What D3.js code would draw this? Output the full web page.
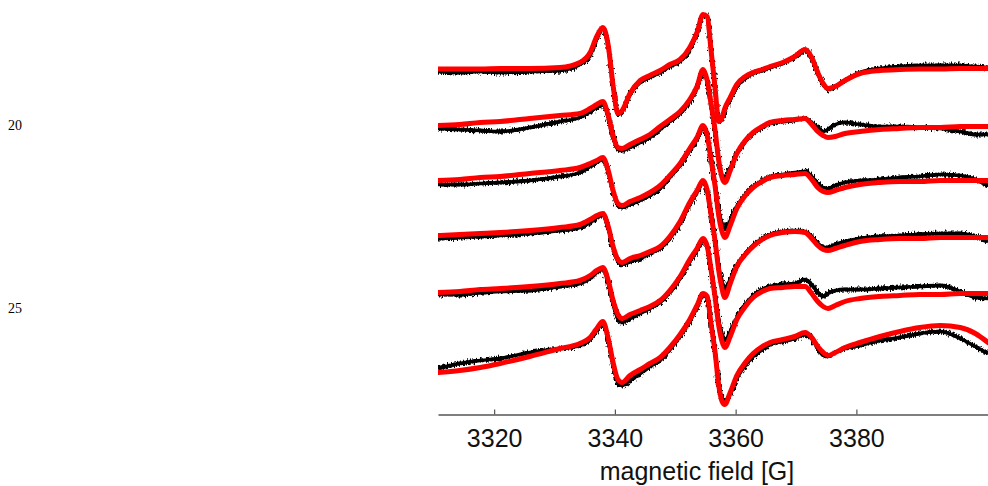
<!DOCTYPE html>
<html>
<head>
<meta charset="utf-8">
<script src="https://cdn.jsdelivr.net/npm/d3@7"></script>
<style>
  body { margin: 0; background: #fff; }
  svg { display: block; }
</style>
</head>
<body>
<div class="chart"></div>
<script>
// magnetic field positions [G] shared by every trace
var fields = [3310.7, 3314.3, 3317.7, 3321.0, 3325.9, 3330.9, 3334.2, 3335.9, 3337.0, 3338.0,
  3338.9, 3339.7, 3340.5, 3341.2, 3342.5, 3344.2, 3345.8, 3347.5, 3349.1, 3350.8,
  3352.4, 3353.6, 3354.6, 3355.3, 3355.9, 3356.6, 3357.2, 3357.7, 3358.2, 3359.1,
  3360.2, 3361.6, 3362.9, 3364.4, 3365.7, 3367.8, 3369.8, 3371.5, 3372.6, 3373.6,
  3374.5, 3375.3, 3376.5, 3378.1, 3380.6, 3383.9, 3387.2, 3390.5, 3393.9, 3397.2,
  3399.7, 3401.8];

// vertical stacking offset of each spectrum (arb. units)
var offsets = [346, 289, 234, 179, 122, 42];

// simulated spectra (red)
var fit1 = [-0.5,-0.5,-0.5,0,0,1,6,16,32,41, 23,-17,-45,-42,-25,-12,-7,-2,4,9, 21,36,54,52,20,-20,-53,-50,-40,-29, -16,-8,-4,-1,2,6,12,19,11,-4, -15,-20,-18,-12,-5,-2,-1,-0.5,-0.5,0, 0,0];
var fit2 = [0,1,3,4,7,10,12,17,21,24, 10,-10,-22,-23,-19,-14,-9,-1,6,14, 26,39,56,45,23,-5,-35,-51,-57,-45, -28,-15,-7,-1,3,5,6,7,1,-6, -10,-12,-11,-8,-6,-4,-3,-2,-2,-1, -1,-1];
var fit3 = [0,1,3,4,7,10,13,17,20,23, 10,-10,-23,-25,-21,-17,-12,-5,5,17, 32,43,55,45,22,-6,-35,-50,-57,-45, -28,-15,-7,-1,3,5,6,7,1,-7, -11,-12,-10,-7,-4,-2,-1,-1,0,0, 0,0];
var fit4 = [0,1,2,3,5,8,11,16,20,22, 9,-11,-24,-27,-23,-20,-16,-11,-1,14, 33,45,55,45,22,-6,-35,-52,-62,-48, -31,-19,-11,-4,0,3,4,3,-3,-10, -14,-15,-13,-10,-6,-4,-3,-3,-2,-2, -2,-2];
var fit5 = [0,1,3,4,6,9,12,17,22,25, 12,-8,-22,-26,-22,-18,-14,-8,2,16, 33,44,54,46,24,-5,-33,-48,-55,-44, -27,-14,-5,1,4,5,6,6,-1,-9, -14,-16,-13,-9,-6,-4,-3,-2,-2,-1, -1,-1];
var fit6 = [0,2,5,9,16,24,29,35,44,51, 34,10,-7,-10,-3,3,9,15,25,38, 53,67,79,76,50,20,-13,-28,-32,-20, -3,10,19,26,30,33,36,40,35,26, 20,17,20,25,30,36,41,45,47,45, 39,30];

// measured spectra (black)
var exp1 = [-3,-4,-3,-4,-3,-2,4,13,30,40, 22,-18,-46,-43,-26,-14,-9,-4,2,7, 19,35,53,51,19,-21,-53,-51,-42,-31, -18,-10,-5,-2,1,5,11,18,10,-5, -16,-21,-18,-12,-4,0,2,3,3,3, 2,1];
var exp2 = [-3,-4,-5,-6,-2,4,8,14,18,21, 8,-12,-24,-25,-22,-17,-12,-4,4,12, 24,37,53,43,21,-6,-35,-49,-53,-42, -29,-16,-8,-2,2,4,5,7,3,-2, -6,-4,1,3,1,-1,-1,-2,-3,-6, -9,-9];
var exp3 = [-4,-4,-3,-2,0,4,8,14,18,21, 8,-12,-25,-27,-24,-20,-15,-8,3,15, 30,41,53,44,22,-4,-30,-42,-48,-40, -26,-14,-6,0,4,6,8,9,4,-3, -7,-8,-5,-2,0,1,3,4,6,5, 1,-5];
var exp4 = [-3,-2,-1,0,2,5,8,13,18,20, 7,-13,-26,-29,-26,-23,-18,-13,-3,12, 31,43,53,44,22,-5,-31,-45,-53,-44, -30,-18,-10,-3,1,4,5,4,-1,-8, -12,-12,-9,-6,-3,-1,0,1,2,2, -1,-6];
var exp5 = [-2,-2,0,1,2,6,9,14,20,23, 9,-12,-26,-30,-26,-21,-16,-10,0,14, 31,42,52,45,24,-3,-28,-41,-48,-39, -25,-12,-3,3,6,8,9,13,8,0, -4,-1,2,3,3,4,5,6,7,1, -5,-6];
var exp6 = [4,9,12,14,20,24,27,33,42,49, 32,7,-10,-13,-8,-1,6,12,23,36, 51,65,77,74,49,20,-11,-25,-29,-21, -6,7,16,23,28,31,34,38,34,24, 17,16,20,24,27,32,35,39,41,34, 26,19];

var fits = [fit1, fit2, fit3, fit4, fit5, fit6];
var exps = [exp1, exp2, exp3, exp4, exp5, exp6];

var tickValues = [3320, 3340, 3360, 3380];
var sideLabels = ["20", "25"];

var width = 988, height = 486;

var x = d3.scaleLinear().domain([3310.7, 3401.8]).range([438, 988]);
var y = d3.scaleLinear().domain([0, 414]).range([414.5, 0.5]);

var svg = d3.select(".chart").append("svg")
  .attr("width", width).attr("height", height);

var defs = svg.append("defs");
defs.append("clipPath").attr("id", "plot")
  .append("rect").attr("x", 438).attr("y", 0).attr("width", 550).attr("height", 414);

// rough texture for the noisy measured traces
var f = defs.append("filter").attr("id", "rough")
  .attr("filterUnits", "userSpaceOnUse")
  .attr("x", 0).attr("y", 0).attr("width", width).attr("height", height);
f.append("feTurbulence").attr("type", "fractalNoise")
  .attr("baseFrequency", "0.7 0.25").attr("numOctaves", 2).attr("seed", 4).attr("result", "n");
f.append("feDisplacementMap").attr("in", "SourceGraphic").attr("in2", "n")
  .attr("scale", 7).attr("xChannelSelector", "R").attr("yChannelSelector", "G");

function lineFor(k) {
  return d3.line()
    .x(function(d, i) { return x(fields[i]); })
    .y(function(d) { return y(offsets[k] + d); })
    .curve(d3.curveMonotoneX);
}

var plot = svg.append("g").attr("clip-path", "url(#plot)");

// solid core + ragged copy of the measured data
var blk = plot.append("g");
var rough = plot.append("g").attr("filter", "url(#rough)");
exps.forEach(function(s, k) {
  blk.append("path").attr("d", lineFor(k)(s))
    .attr("fill", "none").attr("stroke", "#000")
    .attr("stroke-width", 3.5).attr("stroke-linejoin", "round");
  rough.append("path").attr("d", lineFor(k)(s))
    .attr("fill", "none").attr("stroke", "#000")
    .attr("stroke-width", 4).attr("stroke-linejoin", "round");
});

fits.forEach(function(s, k) {
  plot.append("path").attr("d", lineFor(k)(s))
    .attr("fill", "none").attr("stroke", "#ff0000")
    .attr("stroke-width", 5).attr("stroke-linejoin", "round").attr("stroke-linecap", "round");
});

var xAxis = d3.axisBottom(x).tickValues(tickValues)
  .tickSizeInner(-5).tickSizeOuter(0).tickFormat(d3.format("d"));

var ax = svg.append("g").attr("transform", "translate(0," + y(0) + ")").call(xAxis);
ax.select(".domain").attr("stroke", "#555").attr("stroke-width", 1.5);
ax.selectAll(".tick line").attr("stroke", "#555").attr("stroke-width", 1.2);
ax.selectAll(".tick text")
  .attr("y", 32).attr("dy", 0)
  .attr("fill", "#111")
  .style("font-family", "Arial, 'Liberation Sans', sans-serif")
  .style("font-size", "25px");

svg.append("text")
  .attr("x", 697).attr("y", 480)
  .attr("text-anchor", "middle")
  .style("font-family", "Arial, 'Liberation Sans', sans-serif")
  .style("font-size", "25px")
  .attr("fill", "#111")
  .text("magnetic field [G]");

svg.selectAll(".side").data(sideLabels).enter().append("text")
  .attr("class", "side")
  .attr("x", 8)
  .attr("y", function(d, i) { return i == 0 ? 130 : 313; })
  .attr("fill", "#000")
  .style("font-family", "'Liberation Serif', 'Times New Roman', serif")
  .style("font-size", "14px")
  .text(function(d) { return d; });
</script>
</body>
</html>
